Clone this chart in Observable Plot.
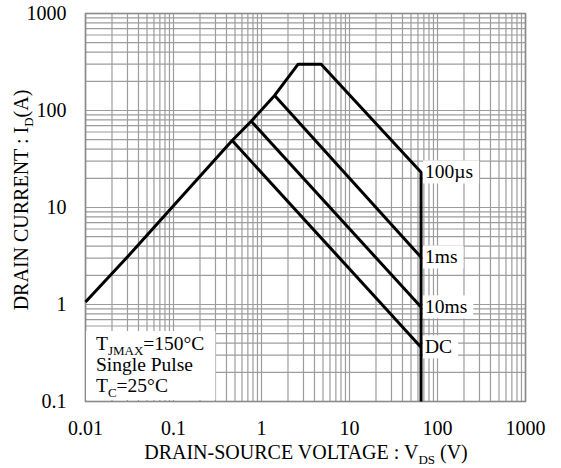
<!DOCTYPE html>
<html>
<head>
<meta charset="utf-8">
<script src="https://cdn.jsdelivr.net/npm/d3@7"></script>
<script src="https://cdn.jsdelivr.net/npm/@observablehq/plot@0.6"></script>
<style>
  html, body { margin: 0; padding: 0; background: #fff; }
  #chart { position: absolute; left: 0; top: 0; }
</style>
</head>
<body>
<div id="chart"></div>
<script>
// ---- axis ticks ----
const xTicks = [0.01, 0.1, 1, 10, 100, 1000];
const xTickLabels = ["0.01", "0.1", "1", "10", "100", "1000"];
const yTicks = [0.1, 1, 10, 100, 1000];
const yTickLabels = ["0.1", "1", "10", "100", "1000"];
const xDomain = [0.01, 1000];
const yDomain = [0.1, 1000];

// ---- 100 µs envelope: RDS(on) limit, ID(pulse) limit, power limit, VDSS limit ----
const envV = [0.01, 0.031, 0.464, 0.764, 1.41, 2.61, 4.76, 65, 65];
const envI = [1.06, 3.2, 49, 77.6, 143, 300, 300, 23.1, 0.1];

// ---- other branches (start on envelope, end at VDSS) ----
const branchNames = ["1ms", "10ms", "DC"];
const branchStartV = [1.41, 0.764, 0.464];
const branchStartI = [143, 77.6, 49];
const branchEndV = [65, 65, 65];
const branchEndI = [3.07, 0.94, 0.363];

// ---- curve labels ----
const labelNames = ["100µs", "1ms", "10ms", "DC"];
const labelV = [65, 65, 65, 65];
const labelI = [23.1, 3.07, 0.94, 0.363];

// ---- note ----
const noteLines = [
  [["T", 0], ["JMAX", 1], ["=150°C", 0]],
  [["Single Pulse", 0]],
  [["T", 0], ["C", 1], ["=25°C", 0]]
];
const xTitle = [["DRAIN-SOURCE VOLTAGE : V", 0], ["DS", 1], [" (V)", 0]];
const yTitle = [["DRAIN CURRENT : I", 0], ["D", 1], ["(A)", 0]];

const FONT = "'Liberation Serif', 'Times New Roman', serif";

const envelope = envV.map((v, i) => ({v, i: envI[i]}));
const branches = branchNames.flatMap((n, k) => [
  {name: n, v: branchStartV[k], i: branchStartI[k]},
  {name: n, v: branchEndV[k], i: branchEndI[k]}
]);
const labels = labelNames.map((t, k) => ({t, v: labelV[k], i: labelI[k]}));

const gridX = d3.scaleLog().domain(xDomain).ticks();
const gridY = d3.scaleLog().domain(yDomain).ticks();

const W = 561, H = 468;
const svg = Plot.plot({
  width: W,
  height: H,
  marginLeft: 85,
  marginRight: 36,
  marginTop: 13,
  marginBottom: 67,
  style: {fontFamily: FONT, fontSize: "20px", background: "white", color: "black"},
  x: {type: "log", domain: xDomain, ticks: xTicks, tickFormat: d => xTickLabels[xTicks.indexOf(d)],
      tickSize: 0, tickPadding: 19, label: null},
  y: {type: "log", domain: yDomain, ticks: yTicks, tickFormat: d => yTickLabels[yTicks.indexOf(d)],
      tickSize: 0, tickPadding: 19, label: null},
  marks: [
    Plot.ruleX(gridX, {stroke: "#9c9c9c", strokeWidth: 1.2}),
    Plot.ruleY(gridY, {stroke: "#9c9c9c", strokeWidth: 1.2}),
    Plot.frame({stroke: "#8a8a8a", strokeWidth: 1.6}),
    Plot.line(envelope, {x: "v", y: "i", stroke: "black", strokeWidth: 3, strokeLinejoin: "miter", strokeLinecap: "butt"}),
    Plot.line(branches, {x: "v", y: "i", z: "name", stroke: "black", strokeWidth: 3, strokeLinejoin: "miter", strokeLinecap: "butt"}),
    Plot.text(labels, {x: "v", y: "i", text: "t", textAnchor: "start", lineAnchor: "middle", dx: 4, dy: 0,
      fontSize: 19.5, fill: "black"})
  ]
});
document.getElementById("chart").append(svg);

const NS = "http://www.w3.org/2000/svg";
const xs = (svg.scale && svg.scale("x") && svg.scale("x").apply) ? (v => svg.scale("x").apply(v))
  : d3.scaleLog().domain(xDomain).range([85, W - 36]);
const ys = (svg.scale && svg.scale("y") && svg.scale("y").apply) ? (v => svg.scale("y").apply(v))
  : d3.scaleLog().domain(yDomain).range([H - 67, 13]);

// white boxes behind curve labels
d3.select(svg).selectAll('g[aria-label="text"] text').each(function () {
  const b = this.getBBox();
  const r = document.createElementNS(NS, "rect");
  r.setAttribute("x", b.x - 2);
  r.setAttribute("y", b.y - 1);
  r.setAttribute("width", b.width + 8);
  r.setAttribute("height", b.height + 2);
  r.setAttribute("fill", "white");
  if (this.getAttribute("transform")) r.setAttribute("transform", this.getAttribute("transform"));
  this.parentNode.insertBefore(r, this);
});

function addRich(g, parts, size, subSize) {
  const t = g.append("text");
  let shifted = false;
  parts.forEach(([s, sub]) => {
    const ts = t.append("tspan").text(s);
    if (sub && !shifted) { ts.attr("dy", 5).attr("font-size", subSize); shifted = true; }
    else if (!sub && shifted) { ts.attr("dy", -5); shifted = false; }
  });
  return t;
}

// note box
const x0 = xs(xDomain[0]), yb = ys(yDomain[0]);
const note = d3.select(svg).append("g").attr("font-family", FONT).attr("font-size", 19.5)
  .attr("fill", "black").attr("text-anchor", "start");
const noteBg = note.append("rect").attr("fill", "white");
const baselines = [yb - 51, yb - 30, yb - 9];
noteLines.forEach((parts, k) => {
  addRich(note, parts, 19.5, 13).attr("x", x0 + 11).attr("y", baselines[k]).attr("text-anchor", "start");
});
{
  const texts = note.selectAll("text").nodes();
  let right = 0, top = Infinity;
  texts.forEach(n => { const b = n.getBBox(); right = Math.max(right, b.x + b.width); top = Math.min(top, b.y); });
  noteBg.attr("x", x0 + 1).attr("y", top - 2).attr("width", right + 10 - x0).attr("height", yb - 1 - (top - 2));
}

// axis titles
const titles = d3.select(svg).append("g").attr("font-family", FONT).attr("font-size", 20).attr("fill", "black");
addRich(titles, xTitle, 20, 13).attr("x", (xs(xDomain[0]) + xs(xDomain[1])) / 2 + 1).attr("y", yb + 58).attr("text-anchor", "middle");
addRich(titles, yTitle, 20, 13).attr("text-anchor", "middle")
  .attr("transform", `translate(28,${(ys(yDomain[0]) + ys(yDomain[1])) / 2 - 7}) rotate(-90)`);
</script>
</body>
</html>
